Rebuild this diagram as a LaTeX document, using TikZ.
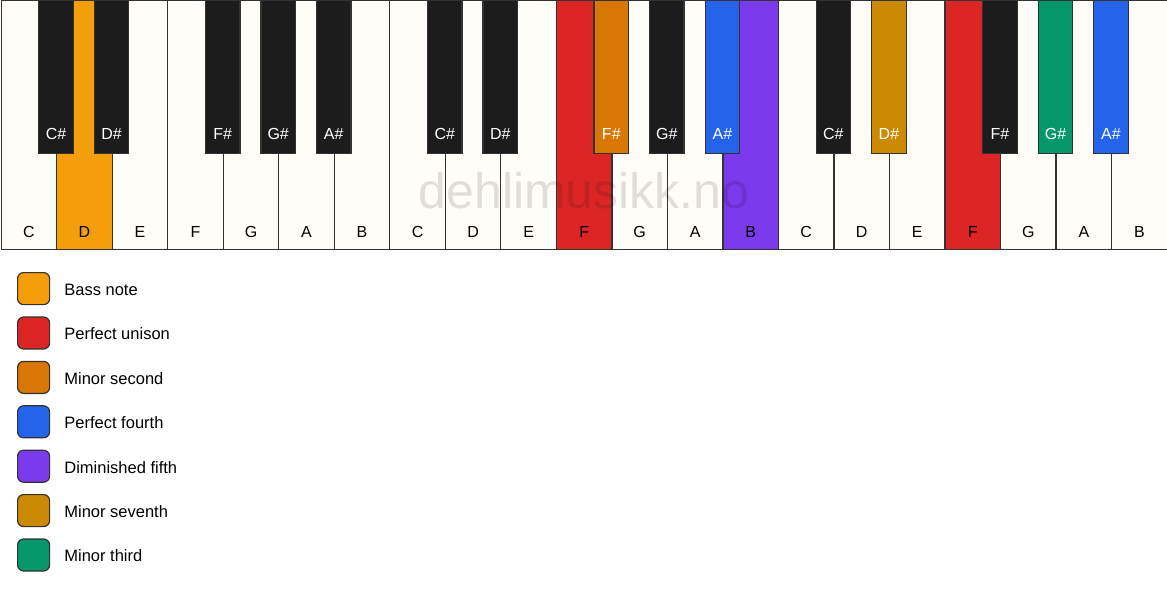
\documentclass[tikz,border=0pt]{standalone}
\usepackage{fontspec}
\setmainfont{Liberation Sans}
\usetikzlibrary{positioning}
\definecolor{keywhite}{HTML}{FFFDF8}
\definecolor{keyblack}{HTML}{1C1C1C}
\definecolor{keyline}{HTML}{333333}
\definecolor{bassnote}{HTML}{F59E0B}
\definecolor{unison}{HTML}{DC2626}
\definecolor{minsecond}{HTML}{D97706}
\definecolor{perfourth}{HTML}{2563EB}
\definecolor{dimfifth}{HTML}{7C3AED}
\definecolor{minseventh}{HTML}{CA8A04}
\definecolor{minthird}{HTML}{059669}

\begin{document}
\begin{tikzpicture}
[
x=1pt,y=-1pt,
whitekey/.style={draw=keyline,line width=1.2pt,fill=#1,minimum width=55.52pt,minimum height=249pt,inner sep=0pt,anchor=north west},
blackkey/.style={draw=keyline,line width=1.2pt,fill=#1,minimum width=34.5pt,minimum height=153pt,inner sep=0pt,anchor=north},
keyname/.style={font=\fontsize{16pt}{19pt}\selectfont,text=#1,anchor=base,inner sep=0pt},
swatch/.style={draw=keyline,line width=1.2pt,fill=#1,rounded corners=6pt,minimum size=32pt,inner sep=0pt},
legendtext/.style={font=\fontsize{16.5pt}{20pt}\selectfont,anchor=west,inner sep=0pt},
]
\useasboundingbox (0,0) rectangle (1167,594);

%Place the white keys
\foreach \i/\n/\c in {0/C/keywhite,1/D/bassnote,2/E/keywhite,3/F/keywhite,4/G/keywhite,5/A/keywhite,6/B/keywhite,
  7/C/keywhite,8/D/keywhite,9/E/keywhite,10/F/unison,11/G/keywhite,12/A/keywhite,13/B/dimfifth,
  14/C/keywhite,15/D/keywhite,16/E/keywhite,17/F/unison,18/G/keywhite,19/A/keywhite,20/B/keywhite}
{
  \node[whitekey=\c] (w\i) at (\i*55.52+0.6,0) {};
  \node[keyname=black] (wl\i) at ([yshift=13pt]w\i.south) {\n};
}

%Watermark
\node[font=\fontsize{50pt}{60pt}\selectfont,text=black,text opacity=0.12,inner sep=0pt] (mark) at (584,191) {dehlimusikk.no};

%Place the black keys
\foreach \i/\n/\c in {1/C\#/keyblack,2/D\#/keyblack,4/F\#/keyblack,5/G\#/keyblack,6/A\#/keyblack,
  8/C\#/keyblack,9/D\#/keyblack,11/F\#/minsecond,12/G\#/keyblack,13/A\#/perfourth,
  15/C\#/keyblack,16/D\#/minseventh,18/F\#/keyblack,19/G\#/minthird,20/A\#/perfourth}
{
  \node[blackkey=\c] (b\i) at (\i*55.52+0.6,0) {};
  \node[keyname=white] (bl\i) at ([yshift=14.5pt]b\i.south) {\n};
}

%Legend
\node[swatch=bassnote,anchor=north west] (s1) at (17,272) {};
\node[swatch=unison,below=11.2pt of s1] (s2) {};
\node[swatch=minsecond,below=11.2pt of s2] (s3) {};
\node[swatch=perfourth,below=11.2pt of s3] (s4) {};
\node[swatch=dimfifth,below=11.2pt of s4] (s5) {};
\node[swatch=minseventh,below=11.2pt of s5] (s6) {};
\node[swatch=minthird,below=11.2pt of s6] (s7) {};
\node[legendtext,right=14pt of s1,yshift=-1pt] (t1) {Bass note};
\node[legendtext,right=14pt of s2,yshift=-1pt] (t2) {Perfect unison};
\node[legendtext,right=14pt of s3,yshift=-1pt] (t3) {Minor second};
\node[legendtext,right=14pt of s4,yshift=-1pt] (t4) {Perfect fourth};
\node[legendtext,right=14pt of s5,yshift=-1pt] (t5) {Diminished fifth};
\node[legendtext,right=14pt of s6,yshift=-1pt] (t6) {Minor seventh};
\node[legendtext,right=14pt of s7,yshift=-1pt] (t7) {Minor third};
\end{tikzpicture}
\end{document}
